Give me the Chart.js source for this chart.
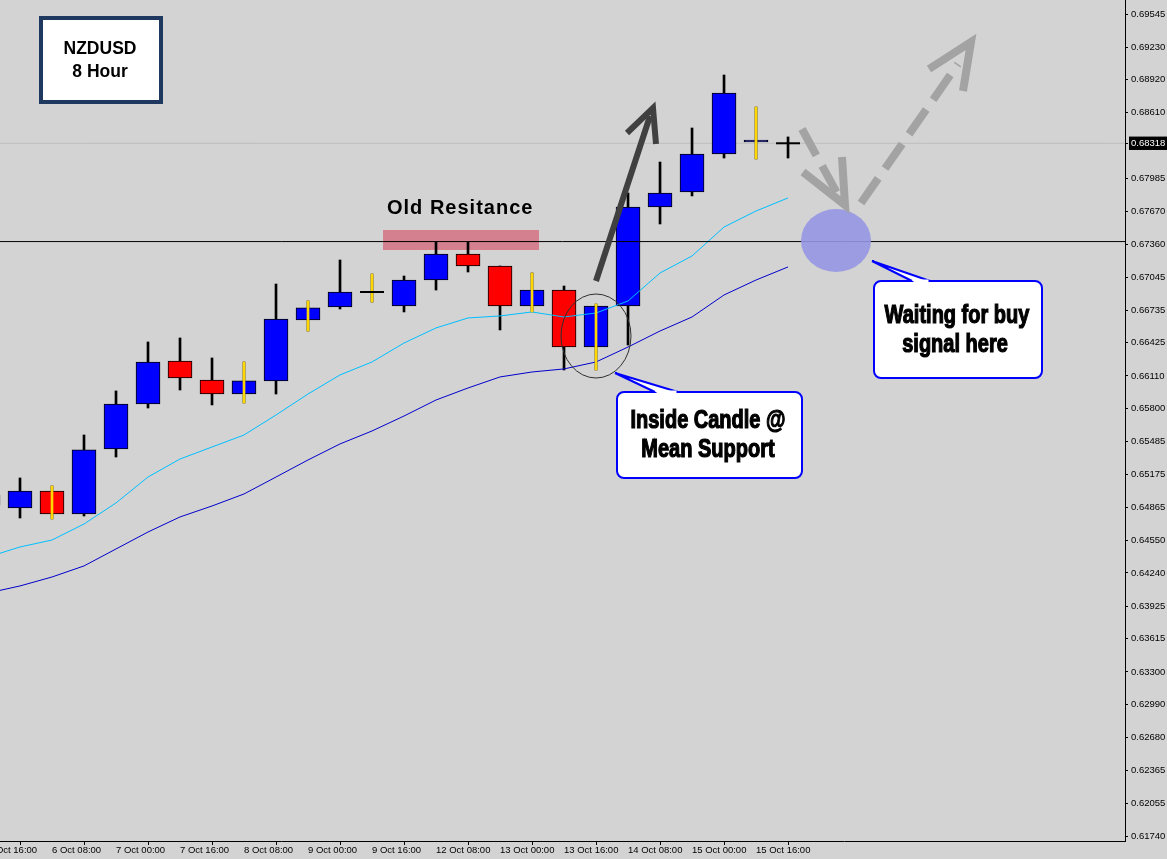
<!DOCTYPE html>
<html><head><meta charset="utf-8">
<script src="https://cdn.jsdelivr.net/npm/chart.js@4"></script>
<style>html,body{margin:0;padding:0;background:#D3D3D3;overflow:hidden}canvas{display:block}</style>
</head><body>
<canvas id="c" width="1167" height="859"></canvas>
<script>
// ---------- DATA ----------
const dateLabels = ['5 Oct 16:00','6 Oct 00:00','6 Oct 08:00','6 Oct 16:00','7 Oct 00:00','7 Oct 08:00','7 Oct 16:00',
  '8 Oct 00:00','8 Oct 08:00','8 Oct 16:00','9 Oct 00:00','9 Oct 08:00','9 Oct 16:00','12 Oct 00:00','12 Oct 08:00',
  '12 Oct 16:00','13 Oct 00:00','13 Oct 08:00','13 Oct 16:00','14 Oct 00:00','14 Oct 08:00','14 Oct 16:00',
  '15 Oct 00:00','15 Oct 08:00','15 Oct 16:00','16 Oct 00:00'];
const opens  = [0.64885,0.64856,0.65017,0.64799,0.65416,0.65843,0.66251,0.66071,0.65938,0.66062,0.66641,0.66764,0.66906,
  0.66773,0.67020,0.67267,0.67153,0.66773,0.66925,0.66384,0.66773,0.67713,0.67856,0.68216,0.68330,0.68318];
const highs  = [0.65030,0.65141,0.65065,0.65549,0.65967,0.66432,0.66470,0.66280,0.66242,0.66982,0.66821,0.67210,0.67077,
  0.67058,0.67381,0.67381,0.67153,0.67087,0.66963,0.66792,0.67846,0.68140,0.68463,0.68966,0.68662,0.68378];
const lows   = [0.64850,0.64761,0.64752,0.64780,0.65340,0.65805,0.65976,0.65834,0.65853,0.65938,0.66536,0.66745,0.66811,
  0.66717,0.66925,0.67096,0.66546,0.66717,0.66166,0.66166,0.66403,0.67552,0.67818,0.68178,0.68169,0.68178];
const closes = [0.64980,0.65017,0.64799,0.65407,0.65843,0.66242,0.66090,0.65938,0.66062,0.66650,0.66755,0.66906,0.66906,
  0.67020,0.67267,0.67153,0.66773,0.66925,0.66384,0.66773,0.67713,0.67846,0.68216,0.68795,0.68349,0.68318];
const fastMA = [0.64391,0.64486,0.64552,0.64704,0.64904,0.65150,0.65321,0.65435,0.65549,0.65739,0.65938,0.66119,0.66242,
  0.66422,0.66565,0.66660,0.66679,0.66717,0.66669,0.66707,0.66821,0.67087,0.67248,0.67523,0.67675,0.67799];
const slowMA = [0.64049,0.64116,0.64201,0.64306,0.64467,0.64628,0.64771,0.64875,0.64989,0.65150,0.65312,0.65464,0.65587,
  0.65729,0.65881,0.65995,0.66100,0.66147,0.66176,0.66242,0.66384,0.66536,0.66669,0.66878,0.67020,0.67144];
const markedBars = [2,8,10,12,17,19,24];
const xTickIdx = [0,2,4,6,8,10,12,14,16,18,20,22,24];
const yTickValues = [0.69545,0.69230,0.68920,0.68610,0.68318,0.67985,0.67670,0.67360,0.67045,0.66735,0.66425,0.66110,
  0.65800,0.65485,0.65175,0.64865,0.64550,0.64240,0.63925,0.63615,0.63300,0.62990,0.62680,0.62365,0.62055,0.61740];
const currentPrice = 0.68318;
const levelPrice = 0.67385;
const X_MIN = 0.375, X_MAX = 35.53, Y_MIN = 0.61695, Y_MAX = 0.69678;

// ---------- datasets ----------
const idx = dateLabels.map((_, i) => i);
const bodyIdx = idx.filter(i => opens[i] !== closes[i]);
const dojiIdx = idx.filter(i => opens[i] === closes[i]);
const FONT = "'Liberation Sans', Arial, sans-serif";

const datasets = [
  { type:'line', order:10, data:[{x:X_MIN,y:currentPrice},{x:X_MAX,y:currentPrice}], borderColor:'#BDBDBD', borderWidth:1, pointRadius:0 },
  { type:'bar', order:9, grouped:false, barThickness:2, backgroundColor:'#000', borderWidth:0,
    data: idx.map(i => ({x:i, y:[lows[i], highs[i]]})) },
  { type:'bar', order:8, grouped:false, barThickness:24, borderWidth:1, borderColor:'#000', borderSkipped:false,
    backgroundColor: bodyIdx.map(i => closes[i] > opens[i] ? '#0000FF' : '#FF0000'),
    data: bodyIdx.map(i => ({x:i, y:[opens[i], closes[i]]})) },
  { type:'line', order:7, data: idx.map(i => ({x:i, y:fastMA[i]})), borderColor:'#00BFFF', borderWidth:1, pointRadius:0, tension:0 },
  { type:'line', order:6, data: idx.map(i => ({x:i, y:slowMA[i]})), borderColor:'#0000CD', borderWidth:1, pointRadius:0, tension:0 },
  { type:'line', order:5, data:[{x:X_MIN,y:levelPrice},{x:X_MAX,y:levelPrice}], borderColor:'#000', borderWidth:1, pointRadius:0 },
  { type:'bar', order:4, grouped:false, barThickness:2, backgroundColor:'#FFD700', borderWidth:0,
    data: markedBars.map(i => ({x:i, y:[lows[i], highs[i]]})) },
  { type:'scatter', order:3, data: dojiIdx.map(i => ({x:i, y:opens[i]})), pointStyle:'line', pointRadius:12,
    borderColor:'#000', borderWidth:2, showLine:false }
];

// ---------- annotations ----------
function impactText(c, text, cx, base, size, sx) {
  c.save();
  c.translate(cx, base); c.scale(sx, 1);
  c.font = `bold ${size}px ${FONT}`;
  c.textAlign = 'center'; c.textBaseline = 'alphabetic';
  c.fillStyle = '#000'; c.strokeStyle = '#000'; c.lineWidth = 1.2;
  c.fillText(text, 0, 0); c.strokeText(text, 0, 0);
  c.restore();
}
function callout(c, x, y, w, h, tip, b1, b2) {
  c.save();
  c.lineWidth = 2; c.strokeStyle = '#0000FF'; c.fillStyle = '#FFFFFF';
  c.beginPath(); c.roundRect(x, y, w, h, 7); c.fill(); c.stroke();
  c.beginPath(); c.moveTo(b1[0], b1[1]); c.lineTo(tip[0], tip[1]); c.lineTo(b2[0], b2[1]); c.closePath(); c.fill();
  c.beginPath(); c.moveTo(b1[0], b1[1]); c.lineTo(tip[0], tip[1]); c.lineTo(b2[0], b2[1]); c.stroke();
  c.fillRect(b1[0] + 1.5, y - 1.5, b2[0] - b1[0] - 3, 3.5);
  c.restore();
}
const annotations = {
  id: 'annotations',
  beforeDraw(chart) {
    const c = chart.ctx; c.save(); c.fillStyle = '#D3D3D3'; c.fillRect(0, 0, chart.width, chart.height); c.restore();
  },
  beforeDatasetsDraw(chart) {
    const c = chart.ctx; c.save();
    c.fillStyle = '#D4808F'; c.fillRect(383, 230, 156, 20);
    c.restore();
  },
  afterDatasetsDraw(chart) {
    const c = chart.ctx; c.save();
    c.font = `bold 20px ${FONT}`; c.fillStyle = '#000'; c.textAlign = 'left'; c.textBaseline = 'alphabetic';
    c.letterSpacing = '1px';
    c.fillText('Old Resitance', 387, 214);
    c.letterSpacing = '0px';
    c.strokeStyle = '#303030'; c.lineWidth = 1;
    c.beginPath(); c.ellipse(596, 336, 35, 42, 0, 0, Math.PI * 2); c.stroke();
    c.strokeStyle = '#404040'; c.lineWidth = 6; c.lineCap = 'butt'; c.lineJoin = 'miter';
    c.beginPath(); c.moveTo(596, 281); c.lineTo(650, 116); c.stroke();
    c.beginPath(); c.moveTo(627, 133); c.lineTo(653, 108); c.lineTo(656, 144); c.stroke();
    c.fillStyle = 'rgba(150,150,228,0.9)';
    c.beginPath(); c.ellipse(836, 240.5, 35, 31.5, 0, 0, Math.PI * 2); c.fill();
    c.strokeStyle = '#A3A3A3'; c.lineWidth = 8;
    c.setLineDash([30, 12]);
    c.beginPath(); c.moveTo(802, 129); c.lineTo(838, 195); c.stroke();
    c.beginPath(); c.moveTo(861, 203); c.lineTo(958, 64); c.stroke();
    c.setLineDash([]);
    c.beginPath(); c.moveTo(803, 172); c.lineTo(845, 205); c.lineTo(842, 157); c.stroke();
    c.beginPath(); c.moveTo(929, 69); c.lineTo(971, 42); c.lineTo(963, 91); c.stroke();
    callout(c, 617, 392, 185, 86, [615, 373], [655, 392], [678, 392]);
    impactText(c, 'Inside Candle @', 708, 428, 25, 0.8);
    impactText(c, 'Mean Support', 708, 457, 25, 0.8);
    callout(c, 874, 281, 168, 97, [872, 261], [912, 281], [930, 281]);
    impactText(c, 'Waiting for buy', 957, 323, 25, 0.8);
    impactText(c, 'signal here', 955, 352, 25, 0.8);
    c.fillStyle = '#FFFFFF'; c.fillRect(41, 18, 120, 84);
    c.strokeStyle = '#1F3860'; c.lineWidth = 4; c.strokeRect(41, 18, 120, 84);
    c.fillStyle = '#000'; c.font = `bold 17.5px ${FONT}`; c.textAlign = 'center';
    c.fillText('NZDUSD', 100, 54);
    c.fillText('8 Hour', 100, 77);
    c.restore();
  }
};

function zeroPad(s) { s.paddingLeft = 0; s.paddingRight = 0; s.paddingTop = 0; s.paddingBottom = 0; }

new Chart(document.getElementById('c'), {
  type: 'bar',
  data: { datasets },
  plugins: [annotations],
  options: {
    responsive: false, animation: false, devicePixelRatio: 1,
    layout: { padding: 0, autoPadding: false },
    plugins: { legend: { display: false }, tooltip: { enabled: false } },
    events: [],
    scales: {
      x: {
        type: 'linear', position: 'bottom', min: X_MIN, max: X_MAX, offset: false,
        grid: { drawOnChartArea: false, drawTicks: true, tickLength: 4, tickColor: '#000' },
        border: { display: true, color: '#000', width: 1 },
        afterBuildTicks: s => { s.ticks = xTickIdx.map(v => ({ value: v })); },
        afterFit: s => { s.height = 18; zeroPad(s); },
        ticks: { autoSkip: false, maxRotation: 0, minRotation: 0, align: 'start', padding: 0,
          color: '#000', font: { family: FONT, size: 9.5 },
          callback: v => dateLabels[v] }
      },
      y: {
        type: 'linear', position: 'right', min: Y_MIN, max: Y_MAX,
        grid: { drawOnChartArea: false, drawTicks: true, tickLength: 3, tickColor: '#000' },
        border: { display: true, color: '#000', width: 1 },
        afterBuildTicks: s => { s.ticks = yTickValues.map(v => ({ value: v })); },
        afterFit: s => { s.width = 42; zeroPad(s); },
        ticks: { autoSkip: false, padding: 3, crossAlign: 'near', font: { family: FONT, size: 9.5 },
          color: ctx => (ctx.tick && ctx.tick.value === currentPrice) ? '#FFFFFF' : '#000',
          showLabelBackdrop: ctx => !!(ctx.tick && ctx.tick.value === currentPrice),
          backdropColor: '#000', backdropPadding: { top: 1, bottom: 1, left: 2, right: 6 },
          callback: v => v.toFixed(5) }
      }
    }
  }
});
</script>
</body></html>
